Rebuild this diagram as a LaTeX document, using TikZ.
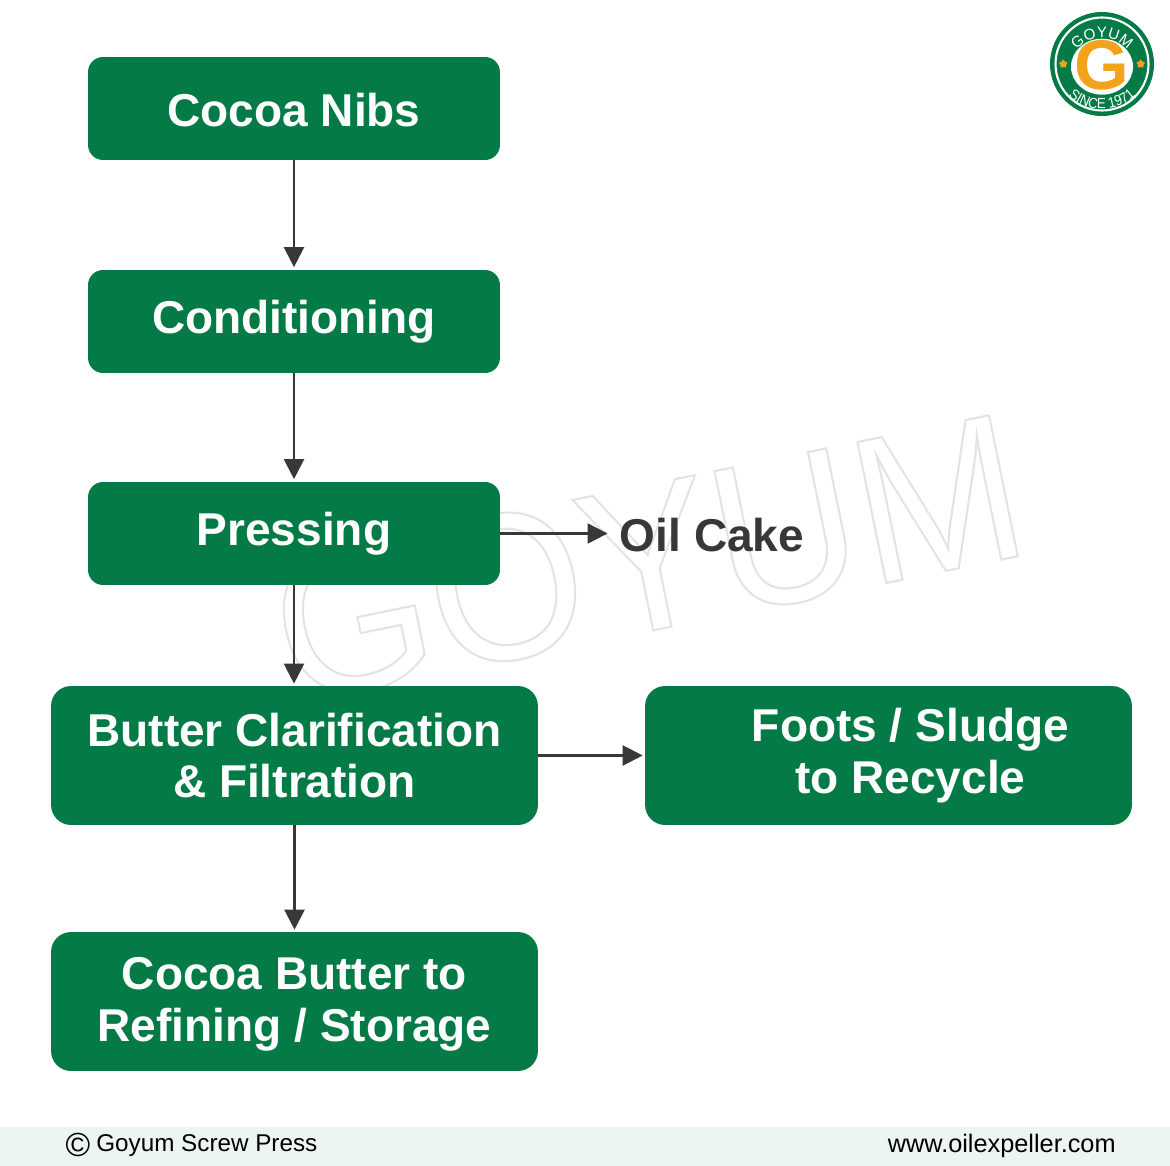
\documentclass[tikz,border=0pt]{standalone}
\usepackage{fontspec}
\setmainfont{Liberation Sans}
\newfontfamily\sealfont[FakeStretch = 0.9]{Liberation Sans}
\usepackage{xcolor}
\usetikzlibrary{arrows.meta, positioning, shapes.geometric, decorations.text}

\definecolor{boxgreen}{HTML}{047A46}
\definecolor{linedark}{HTML}{38383A}
\definecolor{footband}{HTML}{EDF5F1}
\definecolor{logoorange}{HTML}{F2A31B}

\newcommand{\boxstrut}{\rule{0pt}{21.3pt}}

\tikzset{
	stepbox/.style = {fill = boxgreen, text = white, align = center, font = \fontsize{26.2}{29.4}\selectfont\bfseries},
	smallbox/.style = {stepbox, rounded corners = 0.3cm, minimum width = 8.24cm, minimum height = 2.06cm},
	widebox/.style = {stepbox, rounded corners = 0.4cm, minimum width = 9.74cm, minimum height = 2.78cm},
	flow/.style = {draw = linedark, line width = 1.3pt, -{Triangle[length = 0.4cm, width = 0.4cm]}},
	foottext/.style = {text = black, inner sep = 0pt},
	logostar/.style = {star, star points = 5, fill = logoorange, minimum size = 0.18cm, inner sep = 0pt}
}

\begin{document}
\begin{tikzpicture}[x = 0.02cm, y = 0.02cm]
	\useasboundingbox (0, 0) rectangle (1170, -1166);

	% watermark
	\node (mark) at (648, -558) [rotate = 11.5, xscale = 0.96, text = black!11, inner sep = 0pt,
		font = \fontsize{119}{119}\selectfont] {\special{pdf:code 1 Tr 1.2 w}GOYUM\special{pdf:code 0 Tr}};

	% steps
	\node (nibs) at (294, -108.5) [smallbox] {\boxstrut Cocoa Nibs};
	\node (cond) at (294, -321.5) [smallbox] {Conditioning};
	\node (press) at (294, -533.5) [smallbox] {Pressing};
	\node (clarify) at (294.5, -755.5) [widebox] {Butter Clarification\\\& Filtration};
	\node (foots) at (888.5, -755.5) [widebox] {\hspace*{25pt}Foots / Sludge\\\hspace*{25pt}to Recycle};
	\node (refine) at (294.5, -1001.5) [widebox] {\boxstrut Cocoa Butter to\\Refining / Storage};
	\node (cake) at (712, -535) [inner xsep = 0.24cm, text = linedark, font = \fontsize{26.2}{29.4}\selectfont\bfseries] {Oil Cake};

	\draw[flow, shorten > = 0.05cm] (nibs) -- (cond);
	\draw[flow, shorten > = 0.05cm] (cond) -- (press);
	\draw[flow, shorten > = 0.04cm] (press.south) -- (press.south |- clarify.north);
	\draw[flow, shorten > = 0.04cm] (clarify) -- (refine);
	\draw[flow] (press.east) -- (press.east -| cake.west);
	\draw[flow, shorten > = 0.04cm] (clarify) -- (foots);

	% logo
	\fill[boxgreen] (1102, -64) circle (52);
	\draw[white, line width = 1.2pt] (1102, -64) circle (46.5);
	\fill[white] (1102, -66.7) ellipse [x radius = 31, y radius = 28];
	\path[decorate, decoration = {text along path, text align = center,
		text = {|\fontsize{8.7}{10}\selectfont\color{white}|GOYUM}}]
		(1102, -72) ++(170 : 34) arc[start angle = 170, end angle = 10, radius = 34];
	\path[decorate, decoration = {text along path, text align = center,
		text = {|\sealfont\fontsize{8.4}{10}\selectfont\color{white}|SINCE 1971}}]
		(1102, -59) ++(200 : 50) arc[start angle = 200, end angle = 340, radius = 50];
	\node (logostarl) at (1063.3, -64) [logostar] {};
	\node (logostarr) at (1140.7, -64) [logostar] {};
	\node (logog) at (1102, -65) [inner sep = 0pt, text = logoorange, font = \fontsize{40}{40}\selectfont\bfseries] {G};

	% footer
	\fill[footband] (0, -1127) rectangle (1170, -1166);
	\node (copysign) at (78, -1145) [foottext, font = \fontsize{19}{20}\selectfont] {\textcopyright};
	\node (owner) at (96, -1146) [foottext, anchor = west, font = \fontsize{13.8}{16}\selectfont] {Goyum Screw Press};
	\node (site) at (1116, -1146) [foottext, anchor = east, font = \fontsize{14.4}{16}\selectfont] {www.oilexpeller.com};
\end{tikzpicture}
\end{document}
